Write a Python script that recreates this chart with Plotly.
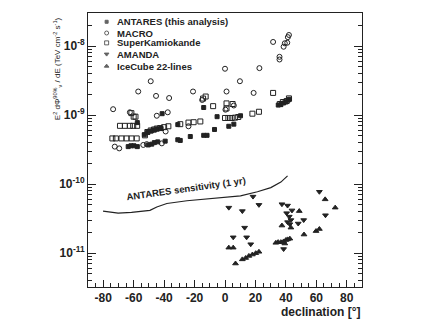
import plotly.graph_objects as go

# ANTARES (this analysis) - filled squares
antares_dec = [-63.6, -61.8, -59.8, -57.6, -50.4, -48.1, -46.4, -44.2, -39.3, -31.0, -29.4,
               -22.8, -14.0, -11.8, -6.9, 2.5, 5.8, -57.6, -41.3, -5.2, -14.0, 10.2, -31.0,
               -53.0, -51.0, -48.5, -46.5, -44.5, -42.0, 35.0, 36.7, 38.5, 40.0, 41.5, 42.4]
antares_flux = [3.5e-10, 3.6e-10, 3.6e-10, 3.5e-10, 3.7e-10, 3.8e-10, 4.0e-10, 4.1e-10, 4.2e-10,
                4.4e-10, 4.3e-10, 4.9e-10, 5.1e-10, 5.1e-10, 6.2e-10, 6.9e-10, 7.4e-10, 7.8e-10,
                1.05e-9, 9.5e-10, 1.29e-9, 9.8e-10, 7.3e-10, 5.2e-10, 5.6e-10, 5.9e-10, 6.1e-10,
                6.3e-10, 6.4e-10, 1.4e-9, 1.42e-9, 1.5e-9, 1.55e-9, 1.65e-9, 1.7e-9]

# MACRO - open circles
macro_dec = [-73.5, -57.0, -48.8, -45.3, -36.7, -21.0, 0.0, 1.0, 9.8, 22.6, 18.8, 31.6, 35.8,
             35.8, 38.5, 39.3, 40.9, 41.3, 42.0, -72.4, -69.5, -62.5, -44.8, -37.6, -53.7,
             -51.4, -41.5, -39.0, -24.0, -15.0, 0.3, 5.8]
macro_flux = [1.22e-9, 2.2e-9, 3.1e-9, 1.9e-9, 1.77e-9, 2.2e-9, 4.7e-9, 2.2e-9, 3.1e-9, 4.8e-9,
              2.1e-9, 1.15e-8, 7.0e-9, 6.4e-9, 9.8e-9, 1.1e-8, 1.12e-8, 1.35e-8, 1.45e-8,
              3.5e-10, 3.3e-10, 1.1e-9, 9.8e-10, 1.1e-9, 3.7e-10, 3.8e-10, 3.9e-10, 5.8e-10,
              6.9e-10, 1.66e-9, 1.2e-9, 1.38e-9]

# SuperKamiokande - open squares
superk_dec = [-74.0, -71.7, -68.0, -64.7, -61.4, -58.0, -69.0, -65.8, -62.5, -60.3, -57.7,
              -61.5, -60.0, -58.8, -52.6, -51.0, -48.8, -46.6, -44.8, -42.6, -40.0, -37.2,
              -29.4, -24.0, -20.6, -16.2, -14.4, -12.7, -7.8, 1.0, 1.0, 5.0, 0.0, 2.2, 4.4,
              6.6, 8.7, 18.0, 22.3, 31.6, 36.0, 38.0, 40.5, 42.0]
superk_flux = [4.6e-10, 4.6e-10, 4.6e-10, 4.6e-10, 4.6e-10, 4.6e-10, 7.0e-10, 7.0e-10, 7.0e-10,
               7.0e-10, 7.0e-10, 1.07e-9, 9.5e-10, 9.5e-10, 5.1e-10, 5.7e-10, 6.0e-10, 6.2e-10,
               6.4e-10, 6.5e-10, 6.7e-10, 6.9e-10, 7.4e-10, 7.8e-10, 7.9e-10, 8.1e-10, 1.74e-9,
               1.86e-9, 1.35e-9, 1.48e-9, 1.25e-9, 1.45e-9, 9.1e-10, 9.1e-10, 9.1e-10, 9.2e-10,
               9.4e-10, 1.05e-9, 1.12e-9, 2.1e-9, 1.45e-9, 1.55e-9, 1.6e-9, 1.75e-9]

# AMANDA - triangles down
amanda_dec = [18.4, 2.5, 11.4, 22.3, 37.4, 41.1, 44.0, 40.5, 42.2, 43.3, 41.1, 42.6, 48.1,
              51.7, 62.0, 66.0, 12.9, 5.4, 14.2, 16.9, 38.5]
amanda_log = [-10.18, -10.34, -10.39, -10.30, -10.29, -10.31, -10.38, -10.42, -10.47, -10.52,
              -10.55, -10.58, -10.57, -10.52, -10.11, -10.45, -10.63, -10.77, -10.77, -10.87,
              -10.94]

# IceCube 22-lines - triangles up
icecube_dec = [48.8, 65.8, 72.4, 43.3, 37.4, 51.9, 59.8, 62.0, 2.5, 5.4, 6.9, 11.4, 13.6, 15.7,
               18.0, 20.2, 22.3, 33.4, 34.9, 36.7, 38.5, 40.0, 41.1, 42.6, 39.3]
icecube_log = [-10.39, -10.22, -10.34, -10.63, -10.60, -10.73, -10.68, -10.65, -10.92, -10.92,
               -11.15, -11.09, -11.07, -11.04, -11.02, -11.00, -10.98, -10.85, -10.84, -10.84,
               -10.83, -10.81, -10.80, -10.79, -10.86]

# ANTARES sensitivity (1 yr)
sens_dec = [-80.1, -70.2, -61.4, -49.3, -44.8, -38.2, -25.0, -16.2, -3.0, 10.2, 21.3, 30.1,
            36.7, 41.1]
sens_log = [-10.39, -10.42, -10.41, -10.38, -10.33, -10.28, -10.24, -10.22, -10.20, -10.17,
            -10.11, -10.05, -9.97, -9.88]

labels = ["ANTARES (this analysis)", "MACRO", "SuperKamiokande", "AMANDA", "IceCube 22-lines"]
symbols = ["square", "circle-open", "square-open", "triangle-down", "triangle-up"]
sizes = [4, 5, 5, 5, 5]
xticks = list(range(-80, 81, 20))

ink = "#222222"
font = "Liberation Sans, Arial, sans-serif"

fig = go.Figure()

series = [
    (antares_dec, antares_flux),
    (macro_dec, macro_flux),
    (superk_dec, superk_flux),
    (amanda_dec, [10 ** v for v in amanda_log]),
    (icecube_dec, [10 ** v for v in icecube_log]),
]
for (xs, ys), sym, sz, name in zip(series, symbols, sizes, labels):
    fig.add_trace(go.Scatter(x=xs, y=ys, mode="markers", name=name, showlegend=False,
                             marker=dict(symbol=sym, size=sz, color=ink,
                                         line=dict(color=ink, width=1))))

fig.add_trace(go.Scatter(x=sens_dec, y=[10 ** v for v in sens_log], mode="lines",
                         line=dict(color=ink, width=1.2), showlegend=False))

# hand-made legend (ROOT style, tight rows)
leg_y = [0.968, 0.927, 0.891, 0.850, 0.806]
fig.add_trace(go.Scatter(x=[0.068] * 5, y=leg_y, mode="markers", xaxis="x2", yaxis="y2",
                         showlegend=False,
                         marker=dict(symbol=symbols, size=[3, 4, 4, 4, 4], color=ink,
                                     line=dict(color=ink, width=1))))
for lab, yy in zip(labels, leg_y):
    fig.add_annotation(text="<b>" + lab + "</b>", xref="paper", yref="paper", x=0.103, y=yy,
                       xanchor="left", yanchor="middle", showarrow=False, borderpad=0,
                       font=dict(family=font, size=9.5, color=ink))

fig.add_annotation(text="<b>ANTARES sensitivity (1 yr)</b>", x=-25.4, y=-10.07,
                   textangle=-8, showarrow=False, font=dict(family=font, size=9.5, color=ink))

fig.add_annotation(text="E<sup>2</sup> dΦ<sup>90%</sup><sub>ν</sub> / dE (TeV cm<sup>-2</sup> s<sup>-1</sup>)",
                   xref="paper", yref="paper", x=-0.113, y=0.795, textangle=-90,
                   xanchor="center", yanchor="middle",
                   showarrow=False, font=dict(family=font, size=8, color=ink))
fig.add_annotation(text="<b>declination [°]</b>", xref="paper", yref="paper", x=1.0, y=-0.09,
                   xanchor="right", yanchor="middle", showarrow=False,
                   font=dict(family=font, size=12, color=ink))

yt = [1e-11, 1e-10, 1e-9, 1e-8]
minor_y = [m * 10 ** e for e in range(-12, -7) for m in range(2, 10)]

fig.update_layout(
    width=429, height=322,
    margin=dict(l=88, r=67, t=13, b=35, autoexpand=False),
    paper_bgcolor="white", plot_bgcolor="white",
    font=dict(family=font, color=ink),
    xaxis=dict(range=[-90, 90], tickvals=xticks, ticktext=["<b>%d</b>" % v for v in xticks],
               ticks="inside", ticklen=7, automargin=False,
               tickcolor=ink, showgrid=False, zeroline=False, showline=True, linecolor=ink,
               linewidth=1, mirror=True, tickfont=dict(size=12, family=font),
               ticklabelstandoff=0,
               minor=dict(tickvals=list(range(-90, 91, 5)), ticks="inside", ticklen=4,
                          tickcolor=ink)),
    yaxis=dict(type="log", range=[-11.49, -7.52], tickvals=yt, automargin=False,
               ticktext=["<b>10<sup>-11</sup></b>", "<b>10<sup>-10</sup></b>",
                         "<b>10<sup>-9</sup></b>", "<b>10<sup>-8</sup></b>"],
               ticks="inside", ticklen=8, tickcolor=ink, showgrid=False, zeroline=False,
               showline=True, linecolor=ink, linewidth=1, mirror="ticks",
               tickfont=dict(size=12, family=font), ticklabelstandoff=0,
               minor=dict(tickvals=minor_y, ticks="inside", ticklen=4, tickcolor=ink)),
    xaxis2=dict(range=[0, 1], overlaying="x", visible=False),
    yaxis2=dict(range=[0, 1], overlaying="y", visible=False),
)

fig.write_html("out.html", config={"displayModeBar": False},
               post_script="document.body.style.margin='0px';")
